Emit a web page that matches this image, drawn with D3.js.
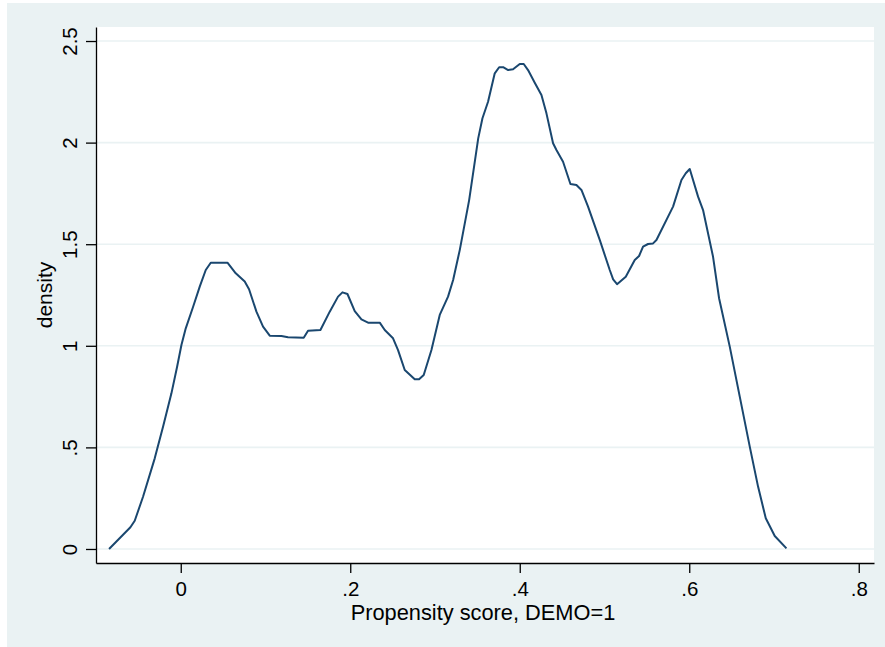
<!DOCTYPE html>
<html>
<head>
<meta charset="utf-8">
<script src="https://cdn.jsdelivr.net/npm/d3@7"></script>
<style>
  body { margin: 0; background: #fff; }
  text { font-family: "Liberation Sans", Arial, sans-serif; fill: #000; }
</style>
</head>
<body>
<div id="chart"></div>
<script>
// kernel density of propensity score (DEMO=1)

const score = [
  -0.0846, -0.0594, -0.0543, -0.0445, -0.0307, -0.0209, -0.011, -0.0043, 0.0008, 0.0059,
  0.0146, 0.0224, 0.0295, 0.0354, 0.0551, 0.0649, 0.0755, 0.0806, 0.0893, 0.0971,
  0.105, 0.1188, 0.1266, 0.1451, 0.1502, 0.1648, 0.1758, 0.1856, 0.1908, 0.1967,
  0.2053, 0.2132, 0.221, 0.2348, 0.2407, 0.2505, 0.2564, 0.2643, 0.2761, 0.2812,
  0.2867, 0.2958, 0.3056, 0.3154, 0.3214, 0.3292, 0.3403, 0.351, 0.356, 0.3626,
  0.3705, 0.3757, 0.3804, 0.3863, 0.3921, 0.4, 0.4047, 0.4098, 0.4177, 0.4256,
  0.4315, 0.4393, 0.4433, 0.4511, 0.4598, 0.4669, 0.4728, 0.4806, 0.4944, 0.5062,
  0.5102, 0.5148, 0.5251, 0.5357, 0.5408, 0.5455, 0.5514, 0.5573, 0.5613, 0.5809,
  0.5908, 0.5959, 0.6006, 0.6104, 0.6163, 0.6281, 0.6352, 0.6478, 0.6596, 0.6714,
  0.6812, 0.6903, 0.7009, 0.7147
];

const density = [
  0, 0.107, 0.139, 0.257, 0.446, 0.602, 0.766, 0.897, 1.004, 1.086,
  1.192, 1.291, 1.373, 1.409, 1.409, 1.357, 1.316, 1.278, 1.168, 1.094,
  1.05, 1.048, 1.042, 1.04, 1.074, 1.078, 1.168, 1.242, 1.263, 1.255,
  1.171, 1.13, 1.114, 1.114, 1.078, 1.037, 0.979, 0.881, 0.835, 0.835,
  0.856, 0.979, 1.152, 1.242, 1.324, 1.471, 1.717, 2.021, 2.12, 2.201,
  2.341, 2.371, 2.371, 2.357, 2.361, 2.387, 2.387, 2.357, 2.295, 2.234,
  2.144, 1.997, 1.964, 1.906, 1.796, 1.791, 1.767, 1.685, 1.521, 1.373,
  1.327, 1.303, 1.34, 1.422, 1.442, 1.488, 1.501, 1.504, 1.521, 1.685,
  1.816, 1.849, 1.87, 1.734, 1.668, 1.438, 1.234, 0.996, 0.75, 0.504,
  0.307, 0.151, 0.064, 0.003
];

const xTicks = [0, 0.2, 0.4, 0.6, 0.8];
const xTickLabels = ["0", ".2", ".4", ".6", ".8"];
const yTicks = [0, 0.5, 1, 1.5, 2, 2.5];
const yTickLabels = ["0", ".5", "1", "1.5", "2", "2.5"];

const width = 885, height = 647;
const plot = { left: 96, top: 27, right: 874, bottom: 563 };
const fontSize = "20.5px";
const lineColor = "#1a476f";
const bluish = "#eaf2f3";

const svg = d3.select("#chart")
    .append("svg")
    .attr("width", width)
    .attr("height", height);

// outer graph region
svg.append("rect")
    .attr("x", 7).attr("y", 3)
    .attr("width", width - 7).attr("height", height - 3)
    .attr("fill", bluish);

// plot region
svg.append("rect")
    .attr("x", plot.left).attr("y", plot.top)
    .attr("width", plot.right - plot.left).attr("height", plot.bottom - plot.top)
    .attr("fill", "#fff");

const x = d3.scaleLinear().domain([-0.1, 0.818]).range([plot.left, plot.right]);
const y = d3.scaleLinear().domain([-0.069, 2.569]).range([plot.bottom, plot.top]);

// gridlines
svg.append("g")
    .selectAll("line")
    .data(yTicks)
    .join("line")
    .attr("x1", plot.left).attr("x2", plot.right)
    .attr("y1", d => y(d)).attr("y2", d => y(d))
    .attr("stroke", bluish)
    .attr("stroke-width", 1.6);

// density curve
const pts = score.map((s, i) => [s, density[i]]);
svg.append("path")
    .datum(pts)
    .attr("fill", "none")
    .attr("stroke", lineColor)
    .attr("stroke-width", 2)
    .attr("stroke-linejoin", "round")
    .attr("d", d3.line().x(d => x(d[0])).y(d => y(d[1])));

// y axis
const yAxis = svg.append("g")
    .attr("transform", `translate(${plot.left},0)`)
    .call(d3.axisLeft(y)
        .tickValues(yTicks)
        .tickFormat((d, i) => yTickLabels[i])
        .tickSize(10)
        .tickSizeOuter(0));
yAxis.selectAll("text")
    .attr("x", 0).attr("y", -19).attr("dy", null)
    .attr("transform", "rotate(-90)")
    .attr("text-anchor", "middle")
    .style("font-size", fontSize);

// x axis
const xAxis = svg.append("g")
    .attr("transform", `translate(0,${plot.bottom})`)
    .call(d3.axisBottom(x)
        .tickValues(xTicks)
        .tickFormat((d, i) => xTickLabels[i])
        .tickSize(10)
        .tickSizeOuter(0));
xAxis.selectAll("text")
    .attr("y", 33).attr("dy", null)
    .style("font-size", fontSize);

[yAxis, xAxis].forEach(a => {
    a.select(".domain").attr("stroke", "#000").attr("stroke-width", 1.3);
    a.selectAll(".tick line").attr("stroke", "#000").attr("stroke-width", 1.3);
    a.selectAll("text").attr("fill", "#000").style("font-family", "Liberation Sans, Arial, sans-serif");
});

// axis titles
svg.append("text")
    .attr("x", (plot.left + plot.right) / 2 - 2)
    .attr("y", 620)
    .attr("text-anchor", "middle")
    .style("font-size", "21.8px")
    .text("Propensity score, DEMO=1");

svg.append("text")
    .attr("transform", `translate(52,${(plot.top + plot.bottom) / 2}) rotate(-90)`)
    .attr("text-anchor", "middle")
    .style("font-size", "21px")
    .text("density");
</script>
</body>
</html>
